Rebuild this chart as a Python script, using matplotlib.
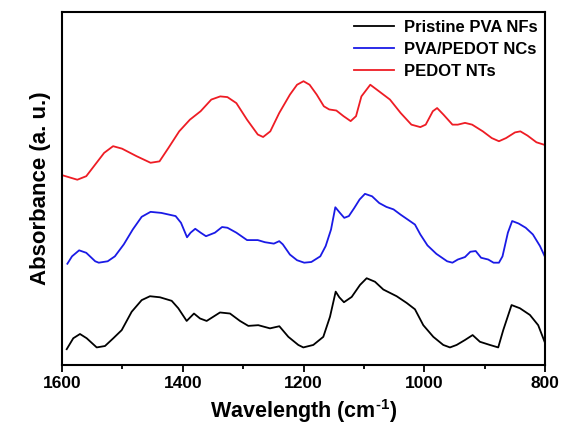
import matplotlib
matplotlib.use('Agg')
import matplotlib.pyplot as plt
from matplotlib.ticker import MultipleLocator

plt.rcParams['font.family'] = ['Liberation Sans', 'DejaVu Sans']
plt.rcParams['font.weight'] = 'bold'
plt.rcParams['mathtext.fontset'] = 'custom'
plt.rcParams['mathtext.rm'] = 'Liberation Sans:bold'
plt.rcParams['mathtext.it'] = 'Liberation Sans:bold'
plt.rcParams['mathtext.bf'] = 'Liberation Sans:bold'

# PEDOT NTs (rojo)
red_x = [1600, 1574.6, 1559.8, 1545.0, 1530.2, 1515.4, 1500.6, 1476.9, 1453.3, 1438.5,
         1423.7, 1405.9, 1388.2, 1370.4, 1352.7, 1337.9, 1326.0, 1311.2, 1293.5, 1275.7,
         1266.9, 1255.0, 1240.2, 1222.5, 1210.7, 1200.0, 1189.9, 1178.1, 1166.3, 1157.4,
         1145.6, 1133.7, 1121.9, 1113.0, 1104.1, 1089.4, 1074.6, 1056.8, 1039.1, 1021.3,
         1006.5, 997.6, 985.8, 978.7, 968.0, 953.3, 944.4, 932.5, 920.7, 903.0,
         888.2, 876.3, 864.5, 849.7, 840.8, 829.0, 814.2, 799.4]
red_y = [53.8, 52.5, 53.5, 56.8, 60.1, 62.0, 61.3, 59.2, 57.3, 57.7,
         61.5, 66.2, 69.5, 71.9, 75.2, 76.1, 75.9, 74.2, 69.5, 65.3,
         64.6, 66.2, 71.4, 76.6, 79.4, 80.4, 79.4, 76.6, 73.3, 72.4,
         72.1, 70.5, 69.1, 70.5, 76.1, 79.4, 77.5, 75.2, 71.4, 68.1,
         67.4, 68.1, 71.9, 72.8, 70.9, 68.1, 68.1, 68.6, 68.1, 66.2,
         64.3, 63.4, 64.3, 65.9, 66.2, 65.0, 63.1, 62.3]

# PVA/PEDOT NCs (azul)
blue_x = [1591.1, 1583.4, 1571.6, 1559.8, 1545.0, 1539.1, 1524.3, 1512.4, 1497.6, 1482.8,
          1468.0, 1453.3, 1435.5, 1411.8, 1402.9, 1392.9, 1387.0, 1379.3, 1370.4, 1361.5,
          1346.7, 1334.9, 1326.0, 1311.2, 1293.5, 1275.7, 1263.9, 1249.1, 1240.2, 1234.3,
          1222.5, 1210.7, 1198.8, 1187.0, 1172.2, 1163.3, 1154.4, 1147.3, 1139.6, 1132.5,
          1124.9, 1115.9, 1107.1, 1098.2, 1086.4, 1074.6, 1062.7, 1050.9, 1039.1, 1027.2,
          1015.4, 1006.5, 994.7, 979.9, 962.1, 953.3, 944.4, 932.5, 923.7, 914.8,
          905.9, 894.1, 885.2, 876.3, 870.4, 861.5, 854.4, 843.8, 832.0, 820.1,
          808.3, 799.4]
blue_y = [28.7, 30.8, 32.5, 31.8, 29.4, 29.0, 29.4, 30.8, 34.2, 38.4,
          42.0, 43.4, 43.1, 42.2, 40.3, 36.2, 37.5, 38.6, 37.5, 36.5,
          37.5, 39.1, 38.9, 37.5, 35.4, 35.4, 34.8, 34.4, 35.1, 34.2,
          31.3, 29.7, 29.0, 29.2, 30.8, 33.7, 38.4, 44.7, 43.1, 41.7,
          42.2, 44.5, 46.9, 48.5, 47.8, 45.9, 44.8, 44.1, 42.6, 41.2,
          39.8, 37.0, 33.9, 31.5, 29.4, 29.0, 29.9, 30.6, 32.1, 32.3,
          30.4, 29.9, 29.0, 29.0, 30.8, 37.5, 40.8, 40.1, 38.9, 37.0,
          33.7, 30.4]

# Pristine PVA NFs (negro)
black_x = [1592.2, 1581.3, 1570.2, 1559.1, 1542.5, 1528.8, 1515.0, 1501.1, 1484.6, 1468.0,
           1454.3, 1437.7, 1418.3, 1407.4, 1393.5, 1381.4, 1371.4, 1360.4, 1338.3, 1321.7,
           1305.2, 1291.4, 1274.9, 1255.5, 1240.0, 1225.1, 1208.6, 1200.3, 1183.8, 1167.2,
           1156.1, 1146.7, 1140.7, 1133.0, 1120.2, 1106.4, 1095.4, 1081.6, 1067.8, 1045.7,
           1029.1, 1015.4, 1001.6, 985.0, 968.5, 957.4, 946.4, 932.6, 919.9, 907.8,
           891.3, 877.5, 869.2, 855.4, 841.6, 825.0, 811.3, 800.0]
black_y = [4.5, 7.6, 8.8, 7.6, 5.0, 5.4, 7.6, 9.9, 15.1, 18.4,
           19.5, 19.2, 18.2, 16.1, 12.5, 14.6, 13.2, 12.5, 14.9, 14.6,
           12.5, 11.1, 11.3, 10.4, 11.0, 8.0, 5.7, 5.0, 5.7, 8.0,
           13.7, 20.8, 19.2, 17.8, 19.3, 22.7, 24.6, 23.6, 21.4, 19.5,
           17.6, 15.8, 11.3, 8.0, 5.7, 5.0, 5.7, 7.1, 8.5, 6.6,
           5.7, 5.0, 9.9, 17.0, 16.1, 14.2, 11.3, 6.3]

fig = plt.figure(figsize=(5.61, 4.29), dpi=100)
ax = fig.add_axes([0.1105, 0.149, 0.861, 0.823])

ax.plot(black_x, black_y, color='black', lw=1.3, label='Pristine PVA NFs')
ax.plot(blue_x, blue_y, color='#1a1ae6', lw=1.3, label='PVA/PEDOT NCs')
ax.plot(red_x, red_y, color='#ee1c24', lw=1.3, label='PEDOT NTs')

ax.set_xlim(1600, 800)
ax.set_ylim(0, 100)
ax.set_yticks([])
ax.xaxis.set_major_locator(MultipleLocator(200))
ax.xaxis.set_minor_locator(MultipleLocator(100))
ax.tick_params(axis='x', which='major', direction='out', length=5, width=1.3,
               labelsize=12.5, pad=3)
ax.tick_params(axis='x', which='minor', direction='out', length=3, width=1.3)
for lbl in ax.get_xticklabels():
    lbl.set_fontweight('bold')
for s in ax.spines.values():
    s.set_linewidth(1.5)

ax.set_xlabel('Wavelength (cm$^{\\text{-}1}$)', fontsize=15.5, fontweight='bold', labelpad=4)
ax.set_ylabel('Absorbance (a. u.)', fontsize=16, fontweight='bold', labelpad=8)

ax.legend(loc='upper right', frameon=False, handlelength=2.4,
          handletextpad=0.6, labelspacing=0.42, borderaxespad=0.05,
          prop={'weight': 'bold', 'size': 12})

fig.savefig('out.png', dpi=100)
